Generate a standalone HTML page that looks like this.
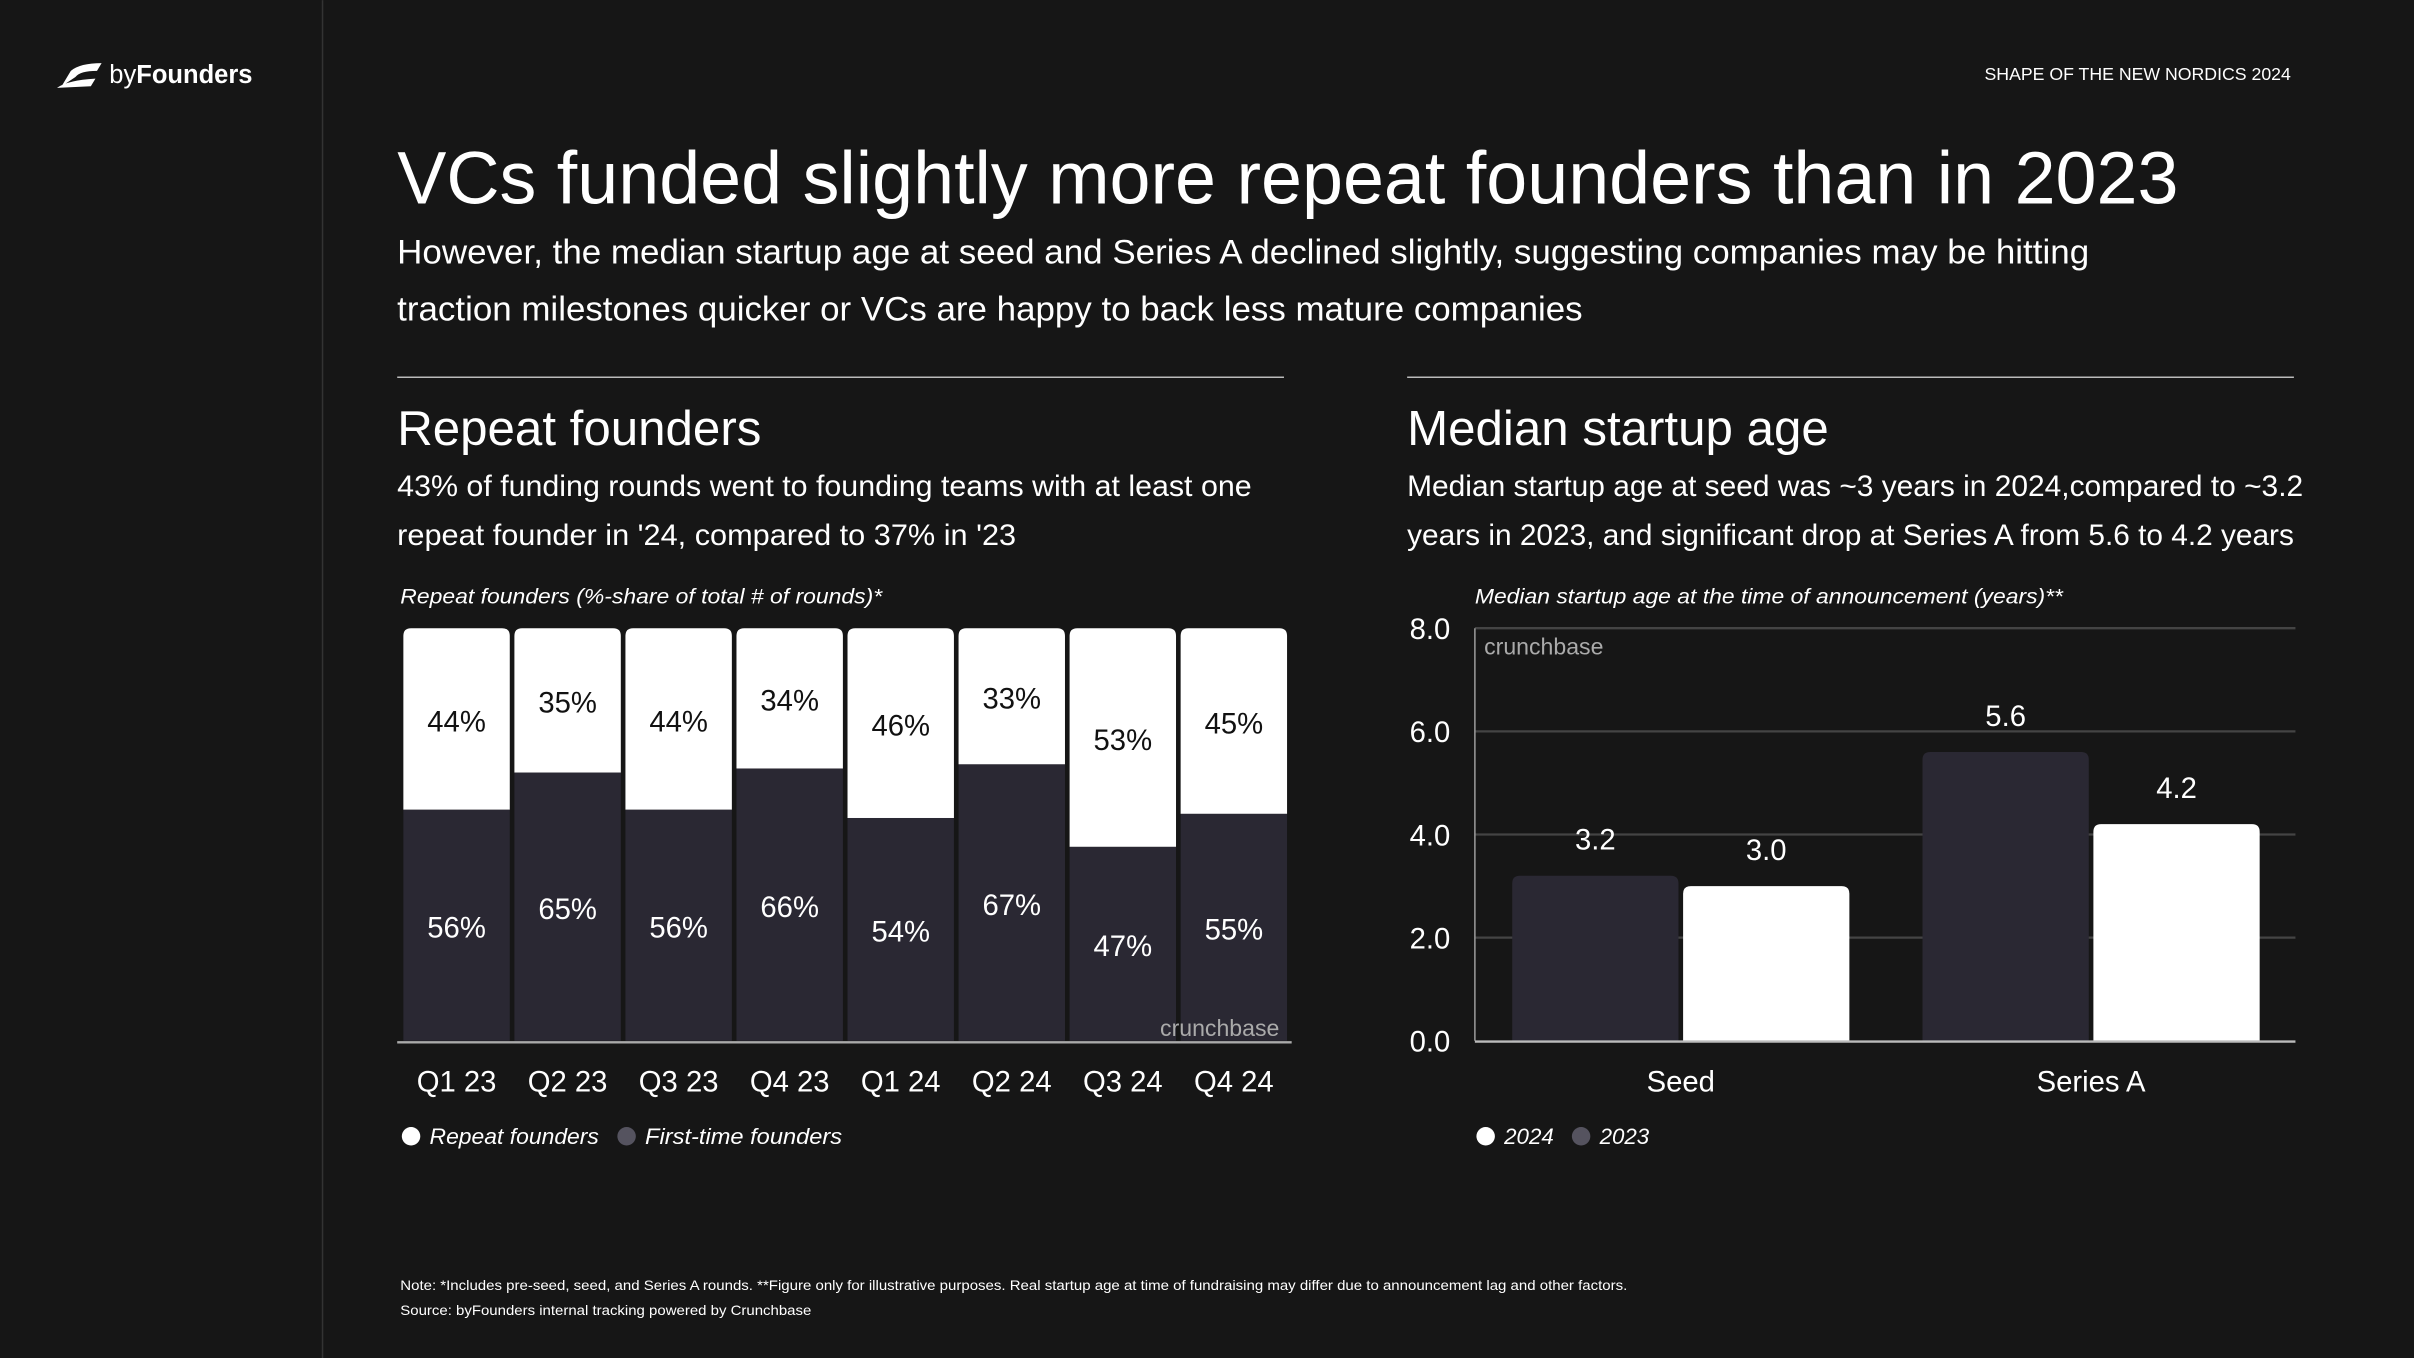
<!DOCTYPE html>
<html><head><meta charset="utf-8"><style>
html,body{margin:0;padding:0;background:#161616;}
svg{display:block;font-family:"Liberation Sans",sans-serif;}
</style></head><body>
<svg id="main" width="2414" height="1358" viewBox="0 0 1568 882" xmlns="http://www.w3.org/2000/svg">
<rect width="1568" height="882" fill="#161616"/>
<line x1="209.5" y1="0" x2="209.5" y2="882" stroke="#333" stroke-width="1"/>
<g>
<path d="M40 56 L46 46 Q52 41 66 41 L63 46 Q52 46 49 50 Z M37 57 Q44 52 62 51 L59 56 Z" fill="#fff"/>
<text x="71" y="54" font-size="17" fill="#fff" textLength="93" lengthAdjust="spacingAndGlyphs">by<tspan font-weight="bold">Founders</tspan></text>
</g>
<text x="1488" y="52" font-size="11.5" fill="#fff" text-anchor="end">SHAPE OF THE NEW NORDICS 2024</text>
<text x="258" y="132" font-size="48" fill="#fff" textLength="1157" lengthAdjust="spacingAndGlyphs">VCs funded slightly more repeat founders than in 2023</text>
<text x="258" y="171" font-size="22" fill="#fff" textLength="1099" lengthAdjust="spacingAndGlyphs">However, the median startup age at seed and Series A declined slightly, suggesting companies may be hitting</text>
<text x="258" y="208" font-size="22" fill="#fff" textLength="770" lengthAdjust="spacingAndGlyphs">traction milestones quicker or VCs are happy to back less mature companies</text>
<line x1="258" y1="245" x2="834" y2="245" stroke="#bbb" stroke-width="1"/>
<line x1="914" y1="245" x2="1490" y2="245" stroke="#bbb" stroke-width="1"/>
<text x="258" y="289" font-size="32" fill="#fff">Repeat founders</text>
<text x="258" y="322" font-size="19" fill="#fff" textLength="555" lengthAdjust="spacingAndGlyphs">43% of funding rounds went to founding teams with at least one</text>
<text x="258" y="354" font-size="19" fill="#fff" textLength="402" lengthAdjust="spacingAndGlyphs">repeat founder in '24, compared to 37% in '23</text>
<text x="914" y="289" font-size="32" fill="#fff">Median startup age</text>
<text x="914" y="322" font-size="19" fill="#fff" textLength="582" lengthAdjust="spacingAndGlyphs">Median startup age at seed was ~3 years in 2024,compared to ~3.2</text>
<text x="914" y="354" font-size="19" fill="#fff" textLength="576" lengthAdjust="spacingAndGlyphs">years in 2023, and significant drop at Series A from 5.6 to 4.2 years</text>
<text x="260" y="392" font-size="14" font-style="italic" fill="#fff" textLength="313" lengthAdjust="spacingAndGlyphs">Repeat founders (%-share of total # of rounds)*</text>
<text x="958" y="392" font-size="14" font-style="italic" fill="#fff" textLength="382" lengthAdjust="spacingAndGlyphs">Median startup age at the time of announcement (years)**</text>
<g id="left"></g>
<g id="right"></g>
<g>
<circle cx="267" cy="738" r="6" fill="#fff"/>
<text x="279" y="743" font-size="14.5" font-style="italic" fill="#fff" textLength="110" lengthAdjust="spacingAndGlyphs">Repeat founders</text>
<circle cx="407" cy="738" r="6" fill="#55535f"/>
<text x="419" y="743" font-size="14.5" font-style="italic" fill="#fff" textLength="128" lengthAdjust="spacingAndGlyphs">First-time founders</text>
</g>
<g>
<circle cx="965" cy="738" r="6" fill="#fff"/>
<text x="977" y="743" font-size="14.5" font-style="italic" fill="#fff">2024</text>
<circle cx="1027" cy="738" r="6" fill="#55535f"/>
<text x="1039" y="743" font-size="14.5" font-style="italic" fill="#fff">2023</text>
</g>
<text x="260" y="838" font-size="9" fill="#fff" textLength="797" lengthAdjust="spacingAndGlyphs">Note: *Includes pre-seed, seed, and Series A rounds. **Figure only for illustrative purposes. Real startup age at time of fundraising may differ due to announcement lag and other factors.</text>
<text x="260" y="854" font-size="9" fill="#fff" textLength="267" lengthAdjust="spacingAndGlyphs">Source: byFounders internal tracking powered by Crunchbase</text>
</svg>
<script>
const quarters = ["Q1 23","Q2 23","Q3 23","Q4 23","Q1 24","Q2 24","Q3 24","Q4 24"];
const repeatPct = [44,35,44,34,46,33,53,45];
const firstPct = [56,65,56,66,54,67,47,55];
const stages = ["Seed","Series A"];
const age2023 = [3.2,5.6];
const age2024 = [3.0,4.2];
const yTicks = [0,2,4,6,8];
const yTickLabels = ["0.0","2.0","4.0","6.0","8.0"];

const NS="http://www.w3.org/2000/svg";
function mk(tag, attrs, parent, txt){const e=document.createElementNS(NS,tag);for(const k in attrs)e.setAttribute(k,attrs[k]);if(txt!==undefined)e.textContent=txt;parent.appendChild(e);return e;}
function topRounded(x,y,w,h,r){return `M${x} ${y+h} L${x} ${y+r} Q${x} ${y} ${x+r} ${y} L${x+w-r} ${y} Q${x+w} ${y} ${x+w} ${y+r} L${x+w} ${y+h} Z`;}

// left chart
const L=document.getElementById('left');
const lx0=262, lx1=839, ly0=408, ly1=676;
const slot=(lx1-lx0)/quarters.length, bw=slot-3;
const yPct=p=>ly0+(p/100)*(ly1-ly0);
quarters.forEach((q,i)=>{
  const x=lx0+i*slot;
  const tot=repeatPct[i]+firstPct[i];
  const split=yPct(repeatPct[i]/tot*100);
  const w=mk('path',{d:topRounded(x,ly0,bw,split-ly0,5),fill:'#ffffff'},L);
  
  
  const d=mk('rect',{x:x,y:split,width:bw,height:ly1-split,fill:'#2a2833'},L);
  
  
  const t1=mk('text',{x:x+bw/2,y:(ly0+split)/2+8,'font-size':19,fill:'#111','text-anchor':'middle'},L,repeatPct[i]+'%');
  
  
  const t2=mk('text',{x:x+bw/2,y:(split+ly1)/2+8,'font-size':19,fill:'#fff','text-anchor':'middle'},L,firstPct[i]+'%');
  
  
  const tq=mk('text',{x:x+bw/2,y:709,'font-size':19,fill:'#fff','text-anchor':'middle'},L,q);
  
  
});
const la=mk('line',{x1:258,y1:677,x2:839,y2:677,stroke:'#aaa','stroke-width':1.5},L);


const cb1=mk('text',{x:831,y:673,'font-size':15,fill:'#aaa','text-anchor':'end'},L,'crunchbase');



// right chart
const R=document.getElementById('right');
const rx0=958, rx1=1491, ry0=676, ry1=408, ymax=8;
const yv=v=>ry0-(v/ymax)*(ry0-ry1);
yTicks.forEach((t,i)=>{
  if(t>0){const g=mk('line',{x1:rx0,y1:yv(t),x2:rx1,y2:yv(t),stroke:'#444','stroke-width':1.5},R);
  
  }
  const tl=mk('text',{x:942,y:yv(t)+7,'font-size':19,fill:'#fff','text-anchor':'end'},R,yTickLabels[i]);
  
  
});
const gw=(rx1-rx0)/stages.length, rbw=108;
stages.forEach((s,i)=>{
  const c=rx0+gw*(i+0.5)+0.5;
  const vals=[age2023[i],age2024[i]], cols=['#2a2833','#ffffff'], nm=['2023','2024'];
  vals.forEach((v,j)=>{
    const x=j===0?c-rbw-1.5:c+1.5;
    const b=mk('path',{d:topRounded(x,yv(v),rbw,ry0-yv(v),5),fill:cols[j]},R);
    
    
    const t=mk('text',{x:x+rbw/2,y:yv(v)-17,'font-size':19,fill:'#fff','text-anchor':'middle'},R,v.toFixed(1));
    
    
  });
  const sl=mk('text',{x:c,y:709,'font-size':19,fill:'#fff','text-anchor':'middle'},R,s);
  
  
});
const ya=mk('line',{x1:rx0,y1:ry1,x2:rx0,y2:ry0,stroke:'#999','stroke-width':1},R);


const xa=mk('line',{x1:rx0,y1:ry0+0.5,x2:rx1,y2:ry0+0.5,stroke:'#bbb','stroke-width':1.5},R);


const cb2=mk('text',{x:964,y:425,'font-size':15,fill:'#aaa'},R,'crunchbase');


</script>
</body></html>
